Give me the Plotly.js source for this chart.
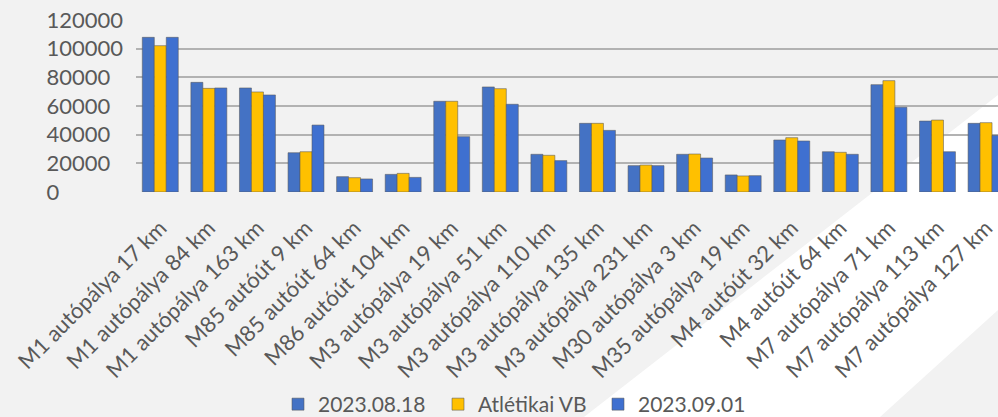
<!DOCTYPE html>
<html>
<head>
<meta charset="utf-8">
<script src="https://cdn.plot.ly/plotly-3.0.1.min.js"></script>
<style>
html,body{margin:0;padding:0;background:#f2f2f2;overflow:hidden;}
#chart{width:998px;height:417px;}
</style>
</head>
<body>
<div id="chart"></div>
<script>
const categories = [
  "M1 autópálya 17 km","M1 autópálya 84 km","M1 autópálya 163 km","M85 autóút 9 km",
  "M85 autóút 64 km","M86 autóút 104 km","M3 autópálya 19 km","M3 autópálya 51 km",
  "M3 autópálya 110 km","M3 autópálya 135 km","M3 autópálya 231 km","M30 autópálya 3 km",
  "M35 autópálya 19 km","M4 autóút 32 km","M4 autóút 64 km","M7 autópálya 71 km",
  "M7 autópálya 113 km","M7 autópálya 127 km"
];
const seriesNames = ["2023.08.18","Atlétikai VB","2023.09.01"];
const s0818 = [107900,76500,72600,27400,10700,12300,63300,73300,26300,47900,18400,26300,11900,36300,28100,74900,49500,47900];
const sVB   = [102100,72300,69800,28100,10000,13000,63300,72100,25600,47900,18800,26500,11200,37900,27700,77700,50200,48400];
const s0901 = [107900,72600,67700,46700, 9100,10200,38600,61200,21900,43000,18400,23700,11400,35600,26300,59100,28100,39500];
const yTickVals = [0,20000,40000,60000,80000,100000,120000];
const yTickText = yTickVals.map(v => { const s = String(v); return s + "\u2007".repeat(6 - s.length); });

const colors = ["#4472C4","#FFC000","#3F70D0"];
const font = "Lato, 'Noto Sans', sans-serif";
const txt = "#595959";

const traces = [s0818, sVB, s0901].map((vals, i) => ({
  type: "bar",
  name: seriesNames[i],
  x: categories,
  y: vals,
  marker: {color: colors[i], line: {color: "rgba(90,90,90,0.55)", width: 1}},
  hoverinfo: "x+y+name"
}));

const L = 136, T = 20, B = 225;
const W = 998, H = 417;
const plotW = W - L, plotH = H - T - B;
const px = v => (v - L) / plotW;
const py = v => (H - B - v) / plotH;

const layout = {
  width: W, height: H,
  margin: {l: L, r: 0, t: T, b: B, pad: 0, autoexpand: false},
  paper_bgcolor: "#f2f2f2",
  plot_bgcolor: "rgba(0,0,0,0)",
  barmode: "group",
  bargap: 0.26,
  bargroupgap: 0,
  font: {family: font, color: txt, size: 20},
  xaxis: {
    type: "category",
    range: [-0.5, 17.246],
    tickangle: -45,
    ticks: "",
    showgrid: false,
    zeroline: false,
    showline: false,
    automargin: false,
    tickfont: {family: font, size: 22, color: txt},
    ticklabelstandoff: 18,
    fixedrange: true
  },
  yaxis: {
    range: [0, 120000],
    tickvals: yTickVals,
    ticktext: yTickText,
    ticks: "",
    showgrid: true,
    gridcolor: "#b2b2b2",
    gridwidth: 2,
    zeroline: false,
    showline: false,
    automargin: false,
    tickfont: {family: font, size: 22, color: txt},
    ticklabelstandoff: 12,
    fixedrange: true
  },
  legend: {
    orientation: "h",
    x: px(278), xanchor: "left",
    y: py(384), yanchor: "top",
    font: {family: font, size: 21, color: txt},
    bgcolor: "rgba(0,0,0,0)",
    entrywidth: 115,
    entrywidthmode: "pixels",
    itemclick: false, itemdoubleclick: false
  },
  shapes: [{
    type: "path",
    xref: "paper", yref: "paper",
    path: `M ${px(998)} ${py(95)} L ${px(584)} ${py(417)} L ${px(880)} ${py(417)} L ${px(998)} ${py(310)} Z`,
    fillcolor: "#ffffff",
    line: {width: 0},
    layer: "below"
  }],
  showlegend: true
};

Plotly.newPlot("chart", traces, layout, {displayModeBar: false, staticPlot: true});
</script>
</body>
</html>
